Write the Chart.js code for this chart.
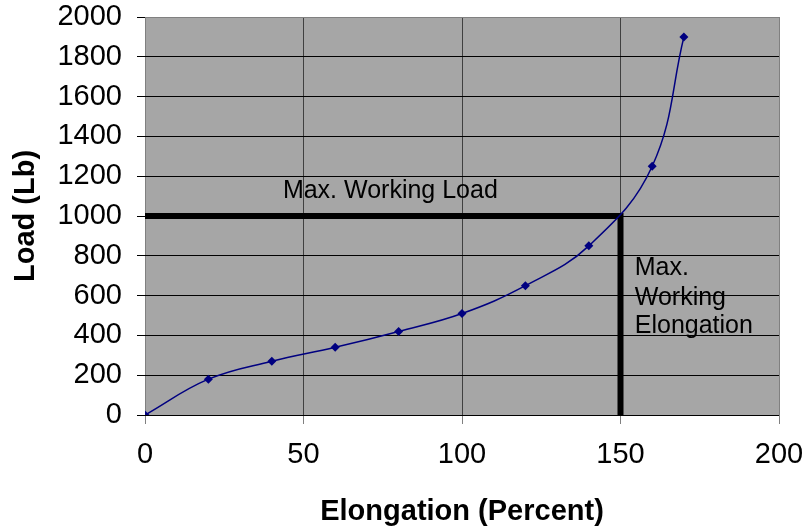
<!DOCTYPE html>
<html>
<head>
<meta charset="utf-8">
<script src="https://cdn.jsdelivr.net/npm/chart.js@4"></script>
<style>
  html, body { margin: 0; padding: 0; background: #fff; }
  #wrap { width: 808px; height: 531px; }
</style>
</head>
<body>
<div id="wrap"><canvas id="loadChart" width="808" height="531"></canvas></div>
<script>
// Load vs elongation data
const elongation = [0, 20, 40, 60, 80, 100, 120, 140, 160, 170];
const load = [0, 180, 270, 340, 420, 510, 650, 850, 1250, 1900];

// Max. working limits
const maxLoad = 1000;
const maxElongation = 150;

const FONT = '"Liberation Sans", Arial, sans-serif';

const plotBg = {
    id: 'plotBg',
    beforeDraw(chart) {
        const { ctx, chartArea: a } = chart;
        ctx.save();
        ctx.fillStyle = '#a6a6a6';
        ctx.fillRect(a.left, a.top, a.right - a.left, a.bottom - a.top);
        ctx.restore();
    },
    afterDatasetsDraw(chart) {
        const { ctx, scales } = chart;
        ctx.save();
        ctx.fillStyle = '#000';
        ctx.font = '25px ' + FONT;
        ctx.textBaseline = 'middle';
        ctx.textAlign = 'left';
        ctx.fillText('Max. Working Load', scales.x.getPixelForValue(43.5), scales.y.getPixelForValue(1125));
        const ex = scales.x.getPixelForValue(154.5);
        ctx.fillText('Max.', ex, scales.y.getPixelForValue(740));
        ctx.fillText('Working', ex, scales.y.getPixelForValue(588));
        ctx.fillText('Elongation', ex, scales.y.getPixelForValue(445));
        ctx.restore();
    }
};

const ctx = document.getElementById('loadChart').getContext('2d');
const loadChart = new Chart(ctx, {
    type: 'scatter',
    data: {
        datasets: [{
            label: 'Load',
            data: elongation.map((x, i) => ({ x: x, y: load[i] })),
            showLine: true,
            borderColor: '#000080',
            backgroundColor: '#000080',
            borderWidth: 1.5,
            tension: 0.4,
            pointStyle: 'rectRot',
            pointRadius: 4.5,
            pointBorderWidth: 0,
            order: 1
        }, {
            label: 'Max. Working',
            data: [{ x: 0, y: maxLoad }, { x: maxElongation, y: maxLoad }, { x: maxElongation, y: 0 }],
            showLine: true,
            borderColor: '#000',
            borderWidth: 6,
            borderCapStyle: 'butt',
            borderJoinStyle: 'miter',
            pointRadius: 0,
            tension: 0,
            order: 2
        }]
    },
    plugins: [plotBg],
    options: {
        responsive: false,
        animation: false,
        layout: { padding: { top: 17, right: 29, left: 0, bottom: 0 } },
        plugins: {
            legend: { display: false },
            tooltip: { enabled: false }
        },
        scales: {
            x: {
                type: 'linear',
                min: 0,
                max: 200,
                ticks: { stepSize: 50, color: '#000', font: { family: FONT, size: 29 }, padding: 14, callback: v => String(v) },
                grid: {
                    color: c => (c.tick.value === 0 || c.tick.value === 200) ? '#808080' : '#404040',
                    tickColor: '#808080',
                    tickLength: 9,
                    lineWidth: 1
                },
                border: { display: false },
                title: { display: true, text: 'Elongation (Percent)', color: '#000', font: { family: FONT, size: 29, weight: 'bold' }, padding: { top: 12, bottom: 2 } },
                afterFit: s => { s.height = 116; s.paddingLeft = 0; s.paddingRight = 0; }
            },
            y: {
                min: 0,
                max: 2000,
                ticks: { stepSize: 200, color: '#000', font: { family: FONT, size: 29 }, padding: 15, callback: v => String(v) },
                grid: {
                    color: c => (c.tick.value === 2000) ? '#808080' : '#000',
                    tickColor: '#000',
                    tickLength: 8,
                    lineWidth: 1
                },
                border: { display: false },
                title: { display: true, text: 'Load (Lb)', color: '#000', font: { family: FONT, size: 29, weight: 'bold' }, padding: { top: 9, bottom: 6 } },
                afterFit: s => { s.width = 145; s.paddingTop = 0; s.paddingBottom = 0; }
            }
        }
    }
});
</script>
</body>
</html>
